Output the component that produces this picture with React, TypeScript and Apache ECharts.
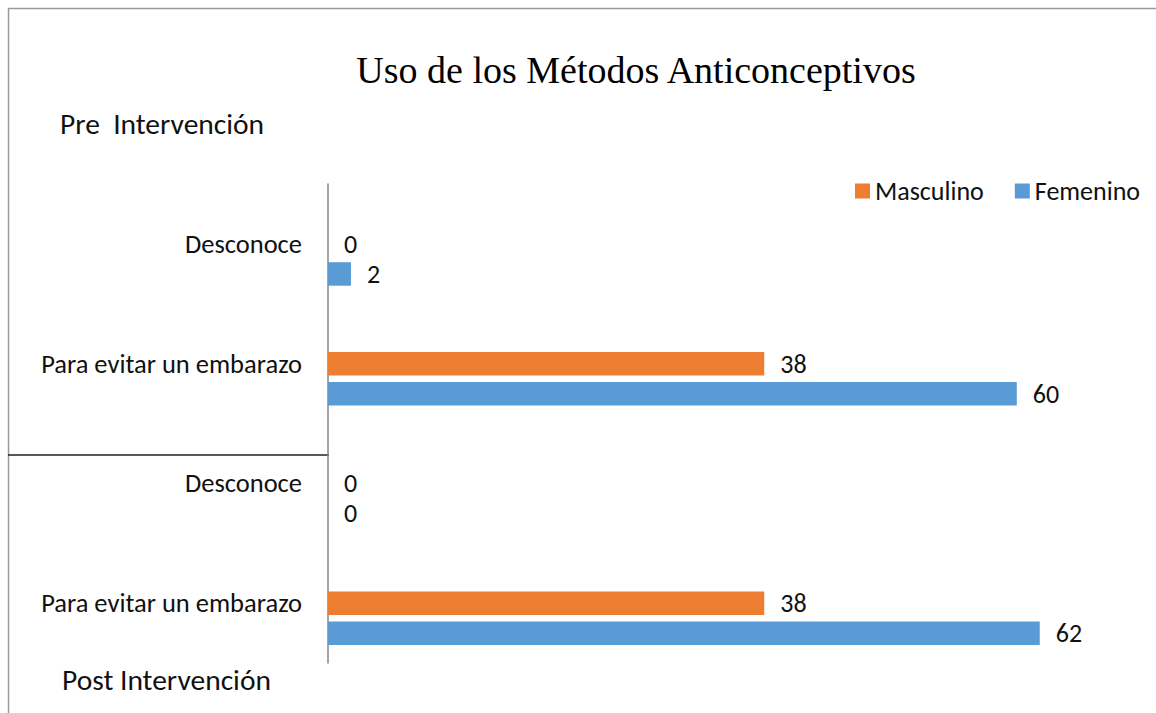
import React, { useEffect, useRef } from "react";
import * as echarts from "echarts";

const categories = ["Desconoce", "Para evitar un embarazo", "Desconoce", "Para evitar un embarazo"];
const masculino = [0, 38, 0, 38];
const femenino = [2, 60, 0, 62];
const placeholder = [0, 0, 0, 0];
const titleText = "Uso de los Métodos Anticonceptivos";
const preText = "Pre  Intervención";
const postText = "Post Intervención";

const SANS = "Carlito, Lato, 'Open Sans', sans-serif";

export default function App() {
  const ref = useRef<HTMLDivElement>(null);
  useEffect(() => {
    if (!ref.current) return;
    const chart = echarts.init(ref.current, undefined, { renderer: "svg" });
    const labelStyle = {
      show: true,
      position: "right",
      distance: 16,
      fontFamily: SANS,
      fontSize: 26,
      color: "#111",
    };
    chart.setOption({
      animation: false,
      backgroundColor: "#fff",
      legend: {
        data: ["Masculino", "Femenino"],
        left: 850,
        top: 173,
        icon: "rect",
        itemWidth: 15,
        itemHeight: 15,
        itemGap: 31,
        textStyle: { fontFamily: SANS, fontSize: 26, color: "#111" },
      },
      grid: { left: 328, top: 184, width: 803.6, height: 479, containLabel: false },
      xAxis: {
        type: "value",
        min: 0,
        max: 70,
        show: false,
        splitLine: { show: false },
      },
      yAxis: {
        type: "category",
        inverse: true,
        data: categories,
        axisTick: { show: false },
        axisLine: { show: true, lineStyle: { color: "#868686", width: 1.5 } },
        axisLabel: { margin: 26, fontFamily: SANS, fontSize: 26.5, color: "#111" },
      },
      series: [
        {
          name: "_",
          type: "bar",
          data: placeholder,
          barWidth: 23.5,
          barGap: "28%",
          itemStyle: { opacity: 0 },
          label: { show: false },
          silent: true,
        },
        {
          name: "Masculino",
          type: "bar",
          data: masculino,
          barWidth: 23.5,
          barGap: "28%",
          itemStyle: { color: "#ED7D31" },
          label: labelStyle,
        },
        {
          name: "Femenino",
          type: "bar",
          data: femenino,
          barWidth: 23.5,
          barGap: "28%",
          itemStyle: { color: "#5B9BD5" },
          label: labelStyle,
        },
      ],
      graphic: [
        { type: "line", shape: { x1: 8.5, y1: 8, x2: 8.5, y2: 713 }, style: { stroke: "#9a9a9a", lineWidth: 1.5 } },
        { type: "line", shape: { x1: 8, y1: 8.5, x2: 1156, y2: 8.5 }, style: { stroke: "#9a9a9a", lineWidth: 1.5 } },
        { type: "line", shape: { x1: 8, y1: 455, x2: 329, y2: 455 }, style: { stroke: "#222", lineWidth: 1.5 } },
        {
          type: "text",
          x: 636,
          y: 70,
          style: {
            text: titleText,
            font: "38px 'Liberation Serif', 'Times New Roman', serif",
            fill: "#000",
            textAlign: "center",
            textVerticalAlign: "middle",
          },
        },
        {
          type: "text",
          x: 60,
          y: 124,
          style: {
            text: preText,
            font: "29.5px " + SANS,
            fill: "#111",
            textAlign: "left",
            textVerticalAlign: "middle",
          },
        },
        {
          type: "text",
          x: 62,
          y: 680,
          style: {
            text: postText,
            font: "29.5px " + SANS,
            fill: "#111",
            textAlign: "left",
            textVerticalAlign: "middle",
          },
        },
      ],
    });
    return () => chart.dispose();
  }, []);
  return (
    <div
      ref={ref}
      style={{ position: "fixed", left: 0, top: 0, width: 1156, height: 713, background: "#fff" }}
    />
  );
}
